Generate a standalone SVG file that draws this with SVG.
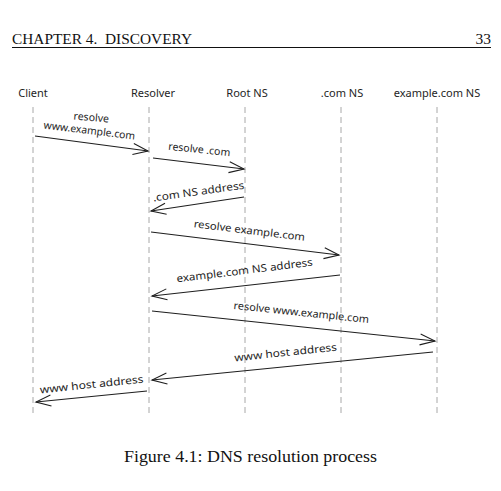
<svg xmlns="http://www.w3.org/2000/svg" width="501" height="491" viewBox="0 0 501 491">
<style>
.page{font-family:"Liberation Serif","Times New Roman",serif;fill:#111}
.actor{font-family:"Noto Sans","Liberation Sans",sans-serif;font-size:11px;fill:#1e1e1e;text-anchor:middle}
.lbl{font-family:"Noto Sans","Liberation Sans",sans-serif;font-size:10.5px;fill:#1e1e1e;text-anchor:middle}
.life{stroke:#a8a8a8;stroke-width:1;stroke-dasharray:6 4;fill:none}
.msg{stroke:#1e1e1e;stroke-width:1.1;fill:none;marker-end:url(#arr)}
</style>
<defs>
<marker id="arr" markerUnits="userSpaceOnUse" markerWidth="20" markerHeight="14" refX="16" refY="7" orient="auto" viewBox="0 0 20 14">
<path d="M1,1.5 L16,7 L1,12.5" fill="none" stroke="#1e1e1e" stroke-width="1.1"/>
</marker>
</defs>
<rect width="501" height="491" fill="#fff"/>
<g id="header">
<text class="page" x="12" y="43.5" font-size="15.5" textLength="180" lengthAdjust="spacingAndGlyphs">CHAPTER 4.&#160; DISCOVERY</text>
<text class="page" x="491" y="43.5" font-size="15.5" text-anchor="end">33</text>
<line x1="12" y1="47.5" x2="491" y2="47.5" stroke="#111" stroke-width="1"/>
</g>
<g id="client"><text class="actor" x="33" y="97">Client</text><line class="life" x1="33" y1="107" x2="33" y2="414"/></g>
<g id="resolver"><text class="actor" x="153" y="97">Resolver</text><line class="life" x1="149" y1="107" x2="149" y2="414"/></g>
<g id="rootns"><text class="actor" x="247" y="97">Root NS</text><line class="life" x1="245" y1="107" x2="245" y2="414"/></g>
<g id="comns"><text class="actor" x="342" y="97">.com NS</text><line class="life" x1="341" y1="107" x2="341" y2="414"/></g>
<g id="examplens"><text class="actor" x="437" y="97">example.com NS</text><line class="life" x1="437" y1="107" x2="437" y2="414"/></g>
<g id="connectors">
<path class="msg" d="M35,136 L148,151"/>
<path class="msg" d="M153,158 L244,169"/>
<path class="msg" d="M244,197 L151,211"/>
<path class="msg" d="M151,232 L339,255"/>
<path class="msg" d="M340,275 L152,296"/>
<path class="msg" d="M152,311 L435,341"/>
<path class="msg" d="M433,352 L152,380"/>
<path class="msg" d="M147,391 L36,402"/>
</g>
<g id="labels">
<text class="lbl" x="91" y="121" transform="rotate(5 91 121)">resolve</text>
<text class="lbl" x="89" y="134" transform="rotate(7 89 134)" textLength="92" lengthAdjust="spacingAndGlyphs">www.example.com</text>
<text class="lbl" x="199" y="153" transform="rotate(6 199 153)">resolve .com</text>
<text class="lbl" x="199" y="195" transform="rotate(-8 199 195)" textLength="92" lengthAdjust="spacingAndGlyphs">.com NS address</text>
<text class="lbl" x="249" y="234" transform="rotate(7 249 234)" textLength="112" lengthAdjust="spacingAndGlyphs">resolve example.com</text>
<text class="lbl" x="245" y="274" transform="rotate(-7 245 274)" textLength="137" lengthAdjust="spacingAndGlyphs">example.com NS address</text>
<text class="lbl" x="301" y="316" transform="rotate(6 301 316)" textLength="136" lengthAdjust="spacingAndGlyphs">resolve www.example.com</text>
<text class="lbl" x="286" y="356" transform="rotate(-6 286 356)" textLength="103" lengthAdjust="spacingAndGlyphs">www host address</text>
<text class="lbl" x="92" y="388" transform="rotate(-6 92 388)" textLength="104" lengthAdjust="spacingAndGlyphs">www host address</text>
</g>
<g id="caption">
<text class="page" x="250.5" y="462" font-size="16.5" text-anchor="middle" textLength="253" lengthAdjust="spacingAndGlyphs">Figure 4.1: DNS resolution process</text>
</g>
</svg>
